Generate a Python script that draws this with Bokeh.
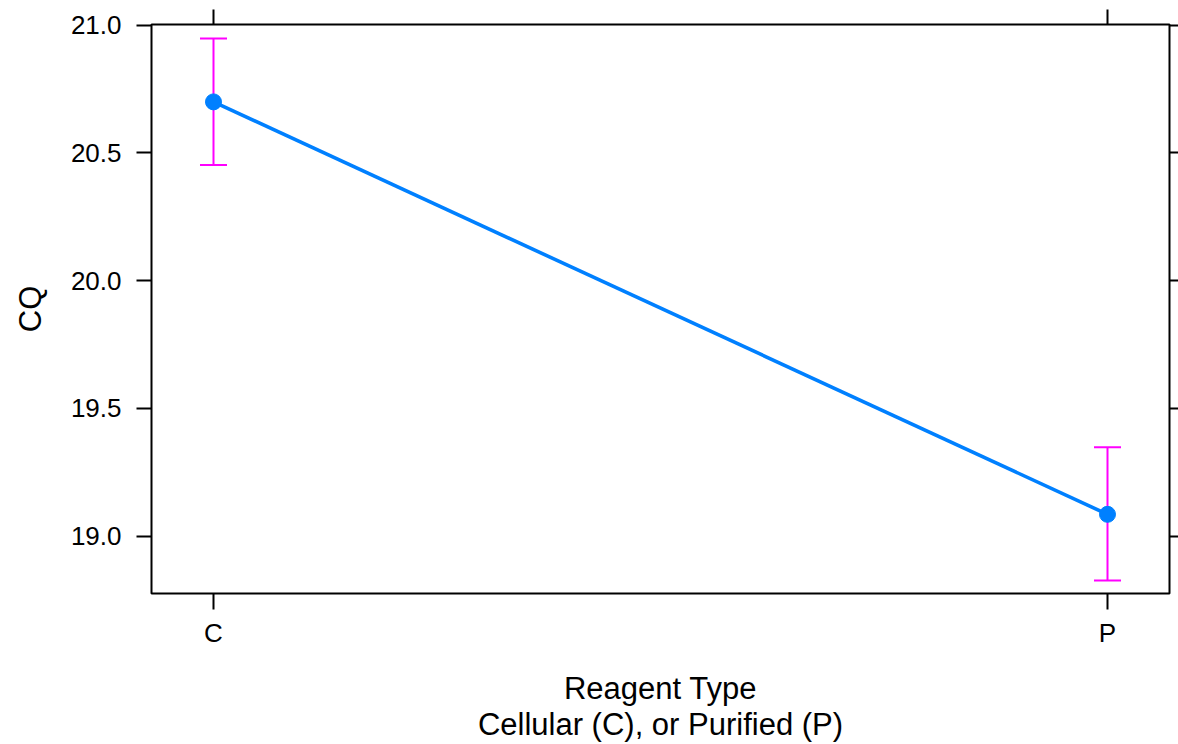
from bokeh.plotting import figure
from bokeh.models import (ColumnDataSource, Whisker, TeeHead, FixedTicker, LinearAxis, Range1d,
                          PrintfTickFormatter, CustomLabelingPolicy)
from bokeh.embed import file_html
from bokeh.resources import INLINE

categories = ["C", "P"]
cq_mean = [20.70, 19.085]
cq_lower = [20.453, 18.826]
cq_upper = [20.948, 19.348]
y_ticks = [19.0, 19.5, 20.0, 20.5, 21.0]

x_title = "Reagent Type\nCellular (C), or Purified (P)"
y_title = "CQ"

xpos = [i + 1 for i in range(len(categories))]
src = ColumnDataSource(dict(x=xpos, y=cq_mean, lo=cq_lower, hi=cq_upper, cat=categories))

FONT = "Liberation Sans"
p = figure(width=1178, height=744, output_backend="svg", toolbar_location=None,
           x_range=Range1d(0.93065, 2.06935), y_range=Range1d(18.775, 21.003),
           min_border_left=151, min_border_top=24, min_border_right=9, min_border_bottom=150)
p.background_fill_color = "white"
p.border_fill_color = "white"
p.grid.visible = False
p.outline_line_color = "black"
p.outline_line_width = 2
p.outline_line_alpha = 1.0

wh = Whisker(source=src, base="x", lower="lo", upper="hi",
             line_color="#FF00FF", line_width=2, level="underlay",
             upper_head=TeeHead(size=27, line_color="#FF00FF", line_width=2),
             lower_head=TeeHead(size=27, line_color="#FF00FF", line_width=2))
p.add_layout(wh)

p.line("x", "y", source=src, line_color="#0080FF", line_width=3.6)
p.scatter("x", "y", source=src, size=16, fill_color="#0080FF", line_color="#0080FF")

bottom = p.xaxis[0]
left = p.yaxis[0]
top = LinearAxis()
right = LinearAxis()
p.add_layout(top, "above")
p.add_layout(right, "right")

overrides = {xv: c for xv, c in zip(xpos, categories)}
for ax in (bottom, top):
    ax.ticker = FixedTicker(ticks=xpos)
    ax.major_label_overrides = overrides
for ax in (left, right):
    ax.ticker = FixedTicker(ticks=y_ticks)
    ax.formatter = PrintfTickFormatter(format="%.1f")

for ax in (bottom, top, left, right):
    ax.axis_line_color = None
    ax.major_tick_line_color = "black"
    ax.major_tick_line_width = 2
    ax.major_tick_in = 0
    ax.minor_tick_line_color = None
    ax.major_label_text_font = FONT
    ax.major_label_text_font_size = "26px"
    ax.major_label_text_color = "black"
    ax.axis_label_text_font = FONT
    ax.axis_label_text_font_size = "31px"
    ax.axis_label_text_font_style = "normal"
    ax.axis_label_text_color = "black"

bottom.major_tick_out = 16
bottom.major_label_standoff = 8
bottom.axis_label = x_title
bottom.axis_label_standoff = 20
bottom.axis_label_text_line_height = 1.04
left.major_tick_out = 15
left.major_label_standoff = 15
left.axis_label = y_title
left.axis_label_standoff = 20

hide_all = CustomLabelingPolicy(code="""
for (const i of Array.from(indices)) { indices.unset(i) }
return indices
""")
for ax, out in ((top, 15), (right, 9)):
    ax.major_tick_out = out
    ax.major_label_text_font_size = "0px"
    ax.major_label_standoff = 0
    ax.major_label_policy = hide_all

open("out.html", "w").write(file_html(p, INLINE))
